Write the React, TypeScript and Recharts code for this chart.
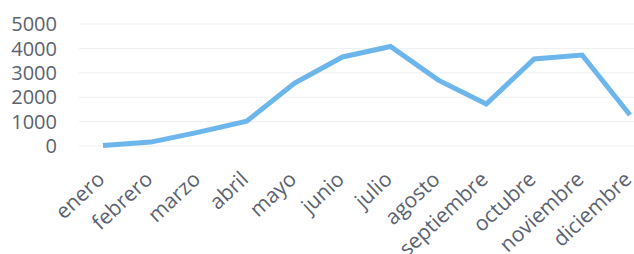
import React from "react";
import { LineChart, Line, XAxis, YAxis, CartesianGrid } from "recharts";

const months = ["enero", "febrero", "marzo", "abril", "mayo", "junio", "julio", "agosto", "septiembre", "octubre", "noviembre", "diciembre"];
const values = [20, 160, 570, 1020, 2580, 3650, 4080, 2700, 1720, 3570, 3730, 1270];
const yTicks = [0, 1000, 2000, 3000, 4000, 5000];

const data = months.map((m, i) => ({ month: m, value: values[i] }));

const textColor = "#5b6270";
const font = "'Open Sans', sans-serif";

const MonthTick = (props: any) => {
  const { x, y, payload } = props;
  const bx = x + 3;
  const by = y + 13;
  return (
    <text
      x={bx}
      y={by}
      textAnchor="end"
      fill={textColor}
      fontSize={21}
      fontFamily={font}
      transform={`rotate(-43 ${bx} ${by})`}
    >
      {payload.value}
    </text>
  );
};

export default function App() {
  return (
    <div style={{ position: "absolute", left: 0, top: 0, width: 634, height: 254, overflow: "hidden", background: "#fff" }}>
      <LineChart width={654} height={254} data={data} margin={{ top: 24, right: 0, bottom: 0, left: 0 }}>
        <CartesianGrid vertical={false} stroke="#efefef" />
        <XAxis
          dataKey="month"
          interval={0}
          padding={{ left: 24, right: 24 }}
          tickLine={false}
          axisLine={false}
          height={108}
          tickMargin={16}
          tick={<MonthTick />}
        />
        <YAxis
          domain={[0, 5000]}
          ticks={yTicks}
          interval={0}
          width={79}
          tickLine={false}
          axisLine={false}
          tickMargin={16}
          tick={{ fill: textColor, fontSize: 20, fontFamily: font }}
        />
        <Line
          type="linear"
          dataKey="value"
          stroke="#6cb6ec"
          strokeWidth={5}
          dot={false}
          isAnimationActive={false}
        />
      </LineChart>
    </div>
  );
}
